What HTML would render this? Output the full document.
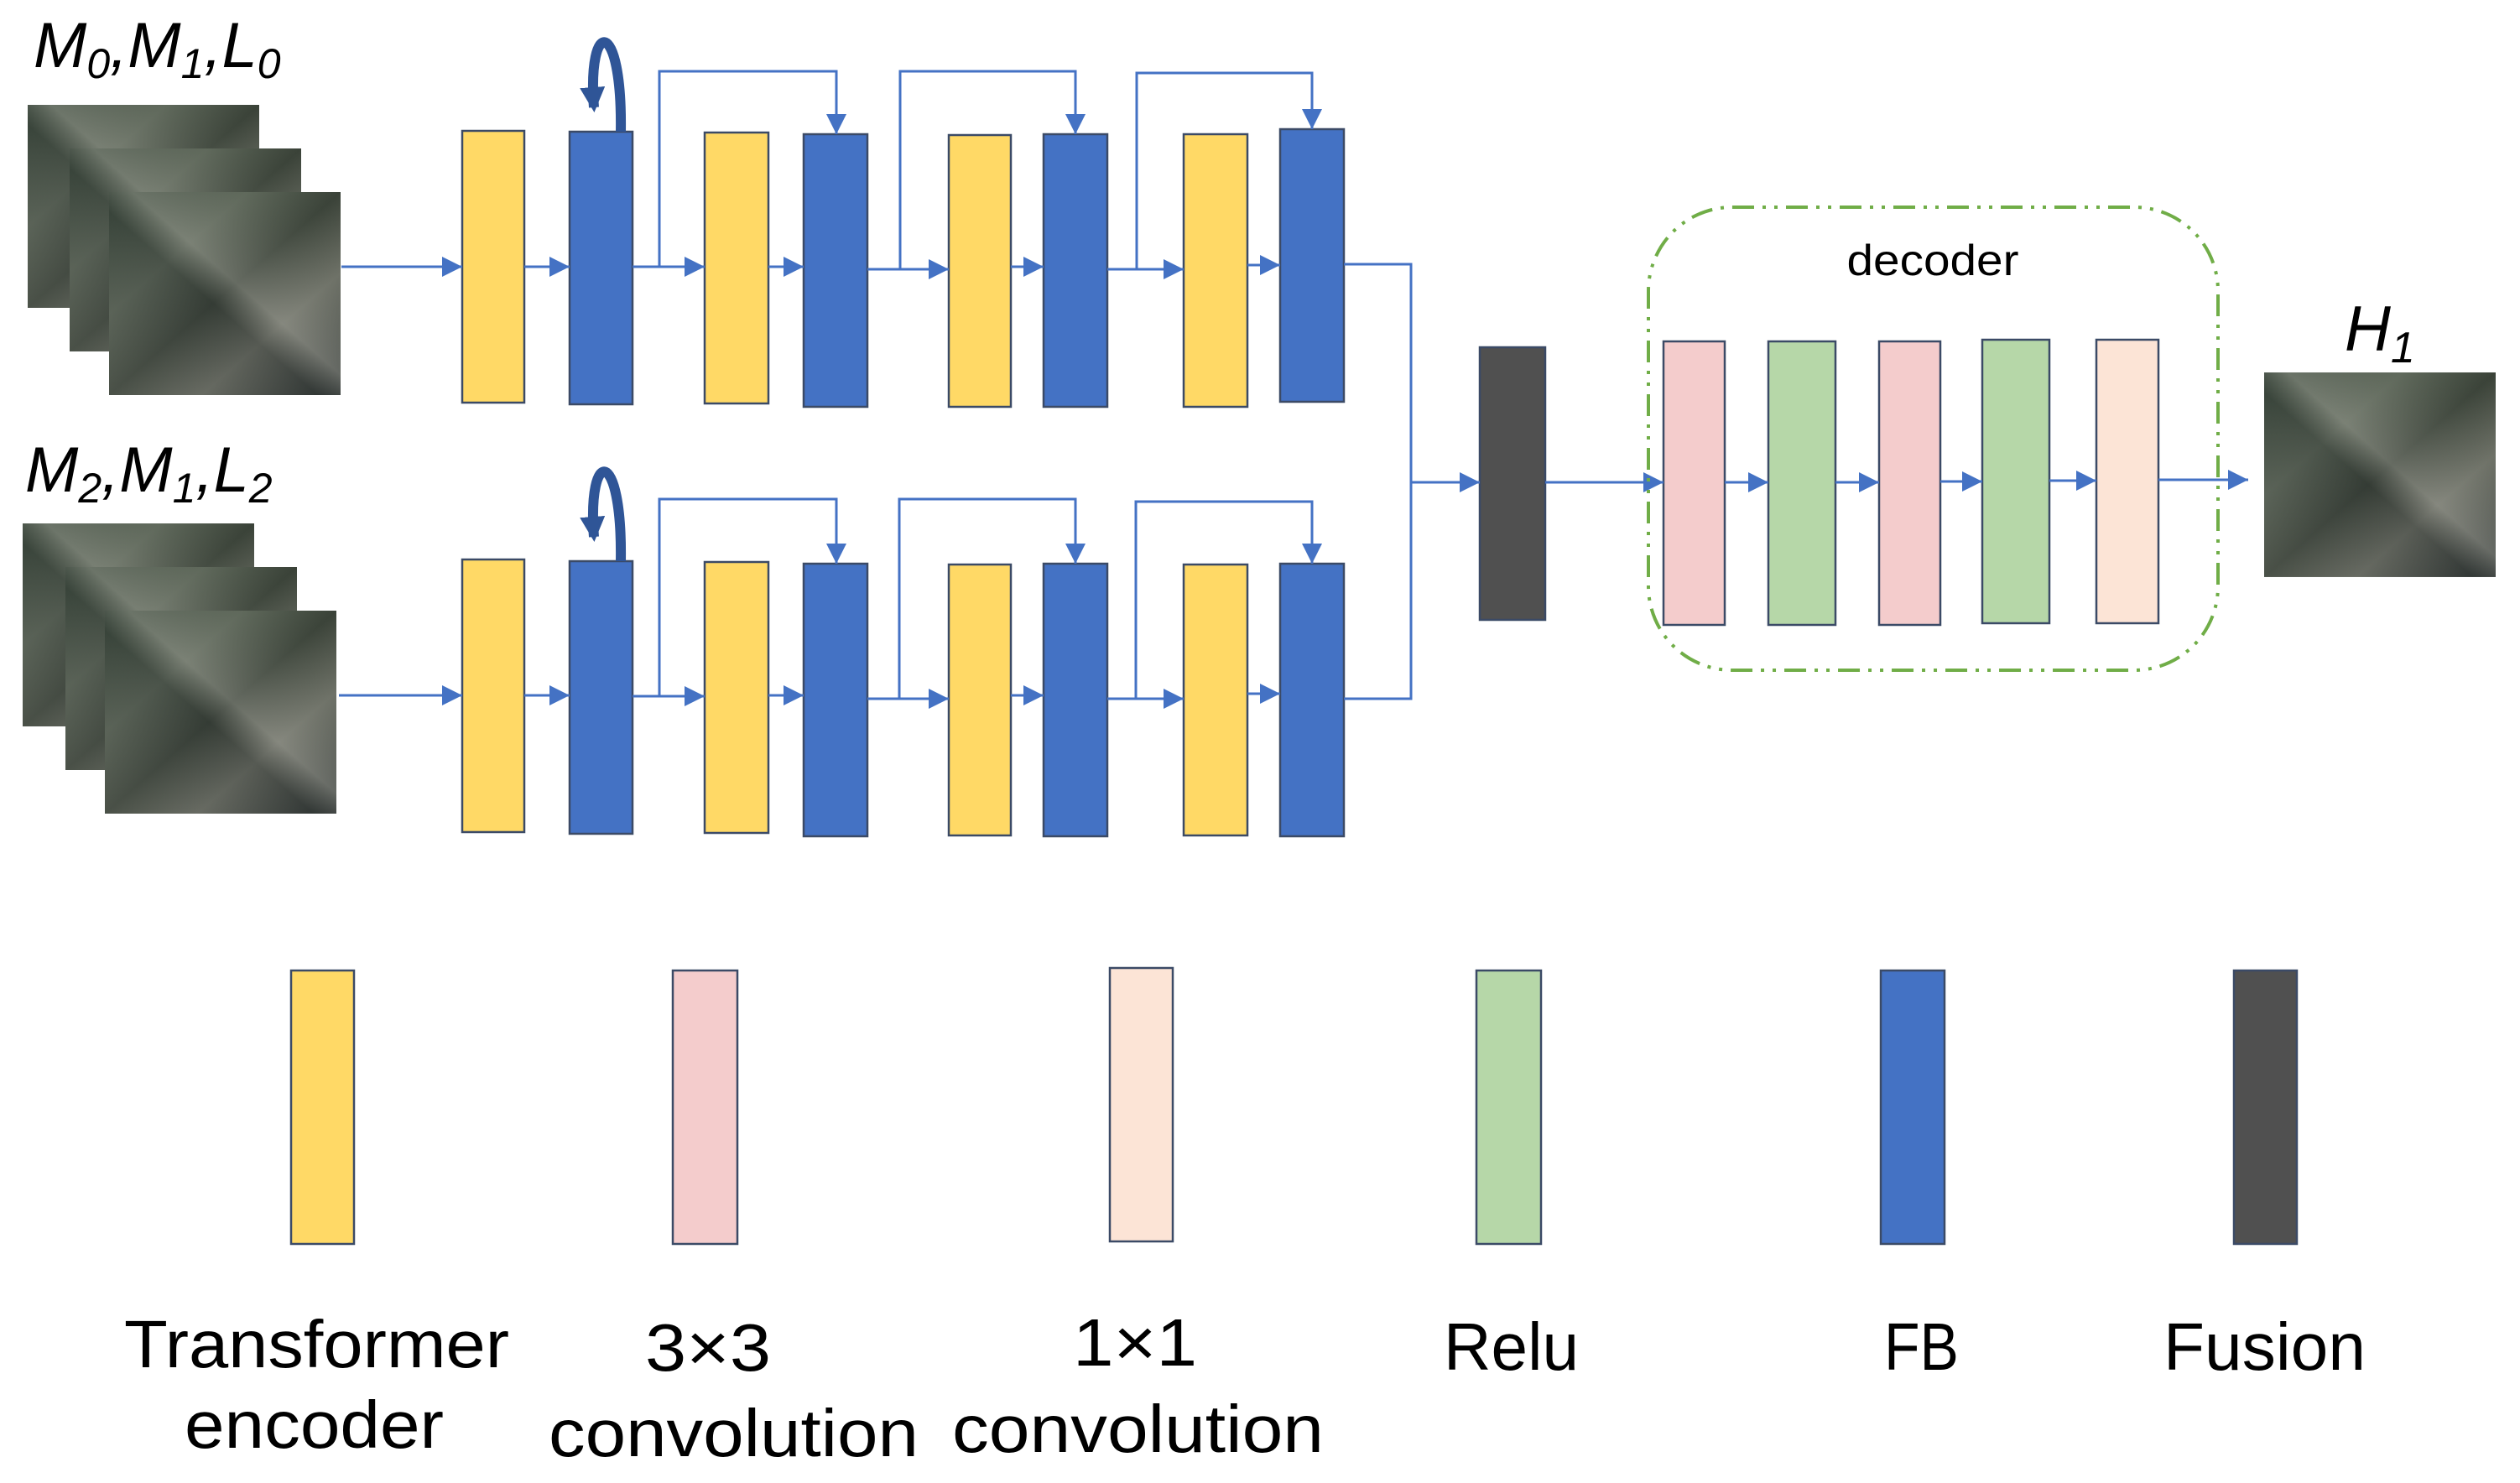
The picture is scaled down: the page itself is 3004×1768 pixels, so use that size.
<!DOCTYPE html>
<html><head><meta charset="utf-8"><style>
html,body{margin:0;padding:0;background:#fff;}
svg{display:block;}
text{font-family:"Liberation Sans",sans-serif;fill:#000;}
</style></head><body>
<svg width="3004" height="1768" viewBox="0 0 3004 1768" xmlns="http://www.w3.org/2000/svg">
<defs>
<marker id="a" viewBox="0 0 10 10" refX="10" refY="5" markerWidth="24" markerHeight="24" markerUnits="userSpaceOnUse" orient="auto"><path d="M0,0 L10,5 L0,10 z" fill="#4472C4"/></marker>
<marker id="b" viewBox="0 0 10 10" refX="8" refY="5" markerWidth="30" markerHeight="30" markerUnits="userSpaceOnUse" orient="auto"><path d="M0,0 L10,5 L0,10 z" fill="#2F5597"/></marker>
<linearGradient id="sat" x1="0" y1="0" x2="1" y2="1">
<stop offset="0" stop-color="#3c4a3c"/><stop offset="0.3" stop-color="#5a6456"/><stop offset="0.5" stop-color="#3a4238"/><stop offset="0.7" stop-color="#6b6e64"/><stop offset="1" stop-color="#2c3230"/></linearGradient>
<linearGradient id="sat2" x1="1" y1="0" x2="0" y2="1">
<stop offset="0" stop-color="#4a5548" stop-opacity="0"/><stop offset="0.45" stop-color="#b8b8b0" stop-opacity="0.35"/><stop offset="0.55" stop-color="#262c2c" stop-opacity="0.3"/><stop offset="1" stop-color="#8a8c86" stop-opacity="0.2"/></linearGradient>
<g id="img"><rect width="276" height="242" fill="url(#sat)"/><rect width="276" height="242" fill="url(#sat2)"/></g>
</defs>

<text x="40" y="80" font-size="76" font-style="italic">M<tspan font-size="50" dy="13">0</tspan><tspan dy="-13">,M</tspan><tspan font-size="50" dy="13">1</tspan><tspan dy="-13">,L</tspan><tspan font-size="50" dy="13">0</tspan></text>
<text x="30" y="586" font-size="76" font-style="italic">M<tspan font-size="50" dy="13">2</tspan><tspan dy="-13">,M</tspan><tspan font-size="50" dy="13">1</tspan><tspan dy="-13">,L</tspan><tspan font-size="50" dy="13">2</tspan></text>

<use href="#img" x="33" y="125"/><use href="#img" x="83" y="177"/><use href="#img" x="130" y="229"/>
<use href="#img" x="27" y="624"/><use href="#img" x="78" y="676"/><use href="#img" x="125" y="728"/>

<g stroke="#3B4A66" stroke-width="2.5">
<rect x="551" y="156" width="74" height="324" fill="#FFD966"/>
<rect x="679" y="157" width="75" height="325" fill="#4472C4"/>
<rect x="840" y="158" width="76" height="323" fill="#FFD966"/>
<rect x="958" y="160" width="76" height="325" fill="#4472C4"/>
<rect x="1131" y="161" width="74" height="324" fill="#FFD966"/>
<rect x="1244" y="160" width="76" height="325" fill="#4472C4"/>
<rect x="1411" y="160" width="76" height="325" fill="#FFD966"/>
<rect x="1526" y="154" width="76" height="325" fill="#4472C4"/>
<rect x="551" y="667" width="74" height="325" fill="#FFD966"/>
<rect x="679" y="669" width="75" height="325" fill="#4472C4"/>
<rect x="840" y="670" width="76" height="323" fill="#FFD966"/>
<rect x="958" y="672" width="76" height="325" fill="#4472C4"/>
<rect x="1131" y="673" width="74" height="323" fill="#FFD966"/>
<rect x="1244" y="672" width="76" height="325" fill="#4472C4"/>
<rect x="1411" y="673" width="76" height="323" fill="#FFD966"/>
<rect x="1526" y="672" width="76" height="325" fill="#4472C4"/>
<rect x="1764" y="414" width="78" height="325" fill="#505050"/>
<rect x="1983" y="407" width="73" height="338" fill="#F4CCCC"/>
<rect x="2108" y="407" width="80" height="338" fill="#B6D7A8"/>
<rect x="2240" y="407" width="73" height="338" fill="#F4CCCC"/>
<rect x="2363" y="405" width="80" height="338" fill="#B6D7A8"/>
<rect x="2499" y="405" width="74" height="338" fill="#FCE4D6"/>
<rect x="347" y="1157" width="75" height="326" fill="#FFD966"/>
<rect x="802" y="1157" width="77" height="326" fill="#F4CCCC"/>
<rect x="1323" y="1154" width="75" height="326" fill="#FCE4D6"/>
<rect x="1760" y="1157" width="77" height="326" fill="#B6D7A8"/>
<rect x="2242" y="1157" width="76" height="326" fill="#4472C4"/>
<rect x="2663" y="1157" width="75" height="326" fill="#505050"/>
</g>

<g stroke="#4472C4" stroke-width="3" fill="none">
<line x1="407" y1="318" x2="551" y2="318" marker-end="url(#a)"/>
<line x1="625" y1="318" x2="679" y2="318" marker-end="url(#a)"/>
<line x1="754" y1="318" x2="840" y2="318" marker-end="url(#a)"/>
<line x1="916" y1="318" x2="958" y2="318" marker-end="url(#a)"/>
<line x1="1034" y1="321" x2="1131" y2="321" marker-end="url(#a)"/>
<line x1="1205" y1="318" x2="1244" y2="318" marker-end="url(#a)"/>
<line x1="1320" y1="321" x2="1411" y2="321" marker-end="url(#a)"/>
<line x1="1487" y1="316" x2="1526" y2="316" marker-end="url(#a)"/>
<polyline points="786,318 786,85 997,85 997,160" marker-end="url(#a)"/>
<polyline points="1073,321 1073,85 1282,85 1282,160" marker-end="url(#a)"/>
<polyline points="1355,321 1355,87 1564,87 1564,154" marker-end="url(#a)"/>
<line x1="404" y1="829" x2="551" y2="829" marker-end="url(#a)"/>
<line x1="625" y1="829" x2="679" y2="829" marker-end="url(#a)"/>
<line x1="754" y1="830" x2="840" y2="830" marker-end="url(#a)"/>
<line x1="916" y1="829" x2="958" y2="829" marker-end="url(#a)"/>
<line x1="1034" y1="833" x2="1131" y2="833" marker-end="url(#a)"/>
<line x1="1205" y1="829" x2="1244" y2="829" marker-end="url(#a)"/>
<line x1="1320" y1="833" x2="1411" y2="833" marker-end="url(#a)"/>
<line x1="1487" y1="827" x2="1526" y2="827" marker-end="url(#a)"/>
<polyline points="786,830 786,595 997,595 997,672" marker-end="url(#a)"/>
<polyline points="1072,833 1072,595 1282,595 1282,672" marker-end="url(#a)"/>
<polyline points="1354,833 1354,598 1564,598 1564,672" marker-end="url(#a)"/>
<polyline points="1602,315 1682,315 1682,833 1602,833"/>
<line x1="1682" y1="575" x2="1764" y2="575" marker-end="url(#a)"/>
<line x1="1842" y1="575" x2="1983" y2="575" marker-end="url(#a)"/>
<line x1="2056" y1="575" x2="2108" y2="575" marker-end="url(#a)"/>
<line x1="2188" y1="575" x2="2240" y2="575" marker-end="url(#a)"/>
<line x1="2313" y1="574" x2="2363" y2="574" marker-end="url(#a)"/>
<line x1="2443" y1="573" x2="2499" y2="573" marker-end="url(#a)"/>
<line x1="2573" y1="572" x2="2680" y2="572" marker-end="url(#a)"/>
</g>

<path d="M740,157 C742,20 700,20 708,128" stroke="#2F5597" stroke-width="12" fill="none" marker-end="url(#b)"/>
<path d="M740,669 C742,532 700,532 708,640" stroke="#2F5597" stroke-width="12" fill="none" marker-end="url(#b)"/>

<rect x="1965" y="247" width="679" height="552" rx="100" ry="100" fill="none" stroke="#70AD47" stroke-width="4" stroke-dasharray="26,10,4,10,4,10"/>
<text x="2304" y="328" font-size="52" text-anchor="middle" textLength="205" lengthAdjust="spacingAndGlyphs">decoder</text>

<text x="2795" y="418" font-size="76" font-style="italic">H<tspan font-size="52" dy="14">1</tspan></text>
<use href="#img" transform="translate(2699,444) scale(1,1.008)"/>

<g font-size="80">
<text x="148" y="1630" textLength="459" lengthAdjust="spacingAndGlyphs">Transformer</text>
<text x="220" y="1726" textLength="309" lengthAdjust="spacingAndGlyphs">encoder</text>
<text x="769" y="1634" textLength="150" lengthAdjust="spacingAndGlyphs">3×3</text>
<text x="654" y="1736" textLength="441" lengthAdjust="spacingAndGlyphs">convolution</text>
<text x="1279" y="1628" textLength="148" lengthAdjust="spacingAndGlyphs">1×1</text>
<text x="1135" y="1731" textLength="443" lengthAdjust="spacingAndGlyphs">convolution</text>
<text x="1721" y="1633" textLength="161" lengthAdjust="spacingAndGlyphs">Relu</text>
<text x="2246" y="1633" textLength="89" lengthAdjust="spacingAndGlyphs">FB</text>
<text x="2579" y="1633" textLength="241" lengthAdjust="spacingAndGlyphs">Fusion</text>
</g>
</svg>
</body></html>
